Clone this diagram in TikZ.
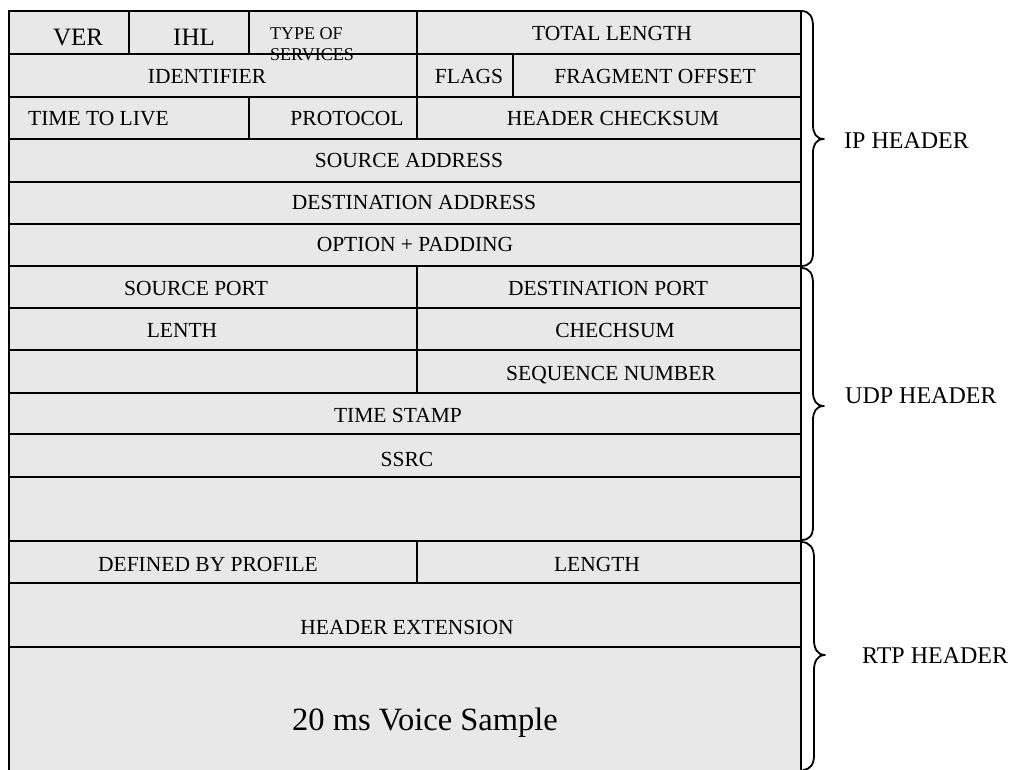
\documentclass[tikz,border=0pt]{standalone}
\usepackage{fontspec}
\setmainfont{Liberation Serif}
\definecolor{cellgray}{HTML}{E8E8E8}
\tikzset{
  lbl/.style={anchor=base, inner sep=0pt, font=\fontsize{21.5}{26}\selectfont},
  lblbig/.style={anchor=base, inner sep=0pt, font=\fontsize{25}{30}\selectfont},
  lblsmall/.style={anchor=base west, inner sep=0pt, font=\fontsize{18}{21}\selectfont},
  side/.style={anchor=base west, inner sep=0pt, font=\fontsize{24}{28}\selectfont},
  grid/.style={line width=2pt, black},
  frame/.style={line width=2.4pt, black},
  bracepath/.style={line width=1.8pt, black, line join=round},
}
\begin{document}
\begin{tikzpicture}[x=1pt, y=-1pt]
\useasboundingbox (0,0) rectangle (1027,769);

% packet background
\fill[cellgray] (9,11) rectangle (801,772);

% field labels
\node[lblbig] (ver) at (78,45) {VER};
\node[lblbig] (ihl) at (194,45) {IHL};
\node[lblsmall] (tos1) at (270,39) {TYPE OF};
\node[lblsmall] (tos2) at (270,60) {SERVICES};
\node[lbl] (tlen) at (612,40) {TOTAL LENGTH};
\node[lbl] (ident) at (207,83) {IDENTIFIER};
\node[lbl] (flags) at (469,83) {FLAGS};
\node[lbl] (frag) at (655,83) {FRAGMENT OFFSET};
\node[lbl, anchor=base west] (ttl) at (28,125) {TIME TO LIVE};
\node[lbl] (proto) at (347,125) {PROTOCOL};
\node[lbl] (hcs) at (613,125) {HEADER CHECKSUM};
\node[lbl] (srcaddr) at (409,167) {SOURCE ADDRESS};
\node[lbl] (dstaddr) at (414,209) {DESTINATION ADDRESS};
\node[lbl] (opt) at (415,251) {OPTION + PADDING};
\node[lbl] (sport) at (196,295) {SOURCE PORT};
\node[lbl] (dport) at (608,295) {DESTINATION PORT};
\node[lbl] (ulen) at (182,337) {LENTH};
\node[lbl] (ucs) at (615,337) {CHECHSUM};
\node[lbl] (seq) at (611,380) {SEQUENCE NUMBER};
\node[lbl] (ts) at (398,422) {TIME STAMP};
\node[lbl] (ssrc) at (407,466) {SSRC};
\node[lbl] (prof) at (208,571) {DEFINED BY PROFILE};
\node[lbl] (xlen) at (597,571) {LENGTH};
\node[lbl] (hext) at (407,634) {HEADER EXTENSION};
\node[anchor=base, inner sep=0pt, font=\fontsize{32.5}{38}\selectfont] (voice) at (425,730) {20 ms Voice Sample};

% row separators
\foreach \y in {54,97,139,182,224,266,308,350,393,434,477,541,583,647}
  \draw[grid] (9,\y) -- (801,\y);

% column separators
\draw[grid] (129,11) -- (129,54);
\draw[grid] (249,11) -- (249,54);
\draw[grid] (417,11) -- (417,139);
\draw[grid] (513,54) -- (513,97);
\draw[grid] (249,97) -- (249,139);
\draw[grid] (417,266) -- (417,393);
\draw[grid] (417,541) -- (417,583);

% outer frame
\draw[frame] (9,772) -- (9,11) -- (801,11) -- (801,772);

% header braces
\draw[bracepath] (801,11) .. controls (810,11) and (813,17) .. (813,27)
  -- (813,125) .. controls (813,133) and (816,139) .. (824,139)
  .. controls (816,139) and (813,145) .. (813,153)
  -- (813,252) .. controls (813,261) and (810,266) .. (801,266);
\node[side] (iphdr) at (844,148) {IP HEADER};

\draw[bracepath] (801,268) .. controls (810,268) and (813,274) .. (813,284)
  -- (813,392) .. controls (813,400) and (816,406) .. (824,406)
  .. controls (816,406) and (813,412) .. (813,420)
  -- (813,526) .. controls (813,535) and (810,540) .. (801,540);
\node[side] (udphdr) at (845,403) {UDP HEADER};

\draw[bracepath] (801,542) .. controls (810,542) and (814,548) .. (814,558)
  -- (814,640) .. controls (814,648) and (817,655) .. (825,655)
  .. controls (817,655) and (814,662) .. (814,670)
  -- (814,755) .. controls (814,764) and (811,769) .. (803,770);
\node[side] (rtphdr) at (862,663) {RTP HEADER};
\end{tikzpicture}
\end{document}
